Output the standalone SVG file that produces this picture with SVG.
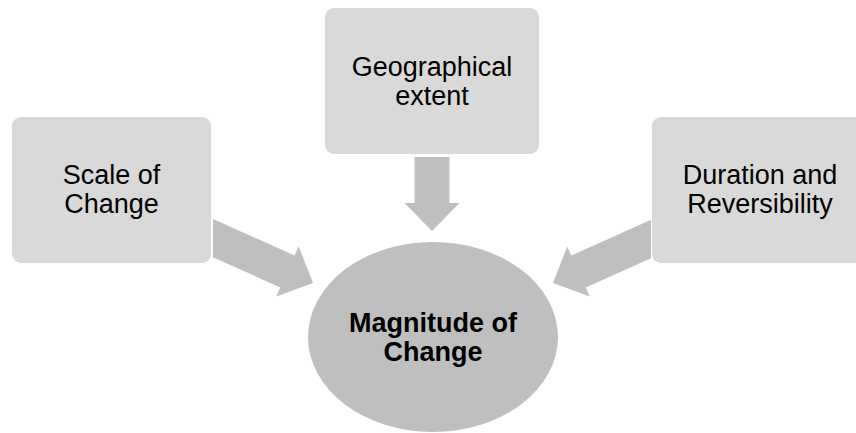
<svg xmlns="http://www.w3.org/2000/svg" width="856" height="433" viewBox="0 0 856 433">
<style>
.box{fill:#d9d9d9}
.arrow{fill:#bfbfbf}
.hub{fill:#bfbfbf}
.t{font-family:"Liberation Sans",Arial,sans-serif;font-size:27px;fill:#000;text-anchor:middle}
.b{font-weight:bold}
</style>
<rect width="856" height="433" fill="#ffffff"/>
<g id="connectors">
<polygon class="arrow" points="213,218.9 294.6,255.6 298.7,246.4 313,283 276.2,296.6 280.3,287.5 213,257.3"/>
<polygon class="arrow" points="414.5,157 449.5,157 449.5,203 459.5,203 432,231 404.5,203 414.5,203"/>
<polygon class="arrow" points="651,219.8 571.4,255.6 567.3,246.4 553,283 589.8,296.6 585.7,287.5 651,258.2"/>
</g>
<g id="scale">
<rect class="box" x="12" y="117" width="199" height="146" rx="9"/>
<text class="t" x="111.5" y="184">Scale of</text>
<text class="t" x="111.5" y="213">Change</text>
</g>
<g id="geo">
<rect class="box" x="325" y="8" width="214" height="146" rx="9"/>
<text class="t" x="432" y="76">Geographical</text>
<text class="t" x="432" y="105">extent</text>
</g>
<g id="duration">
<rect class="box" x="652" y="117" width="216" height="146" rx="9"/>
<text class="t" x="760" y="184">Duration and</text>
<text class="t" x="760" y="213">Reversibility</text>
</g>
<g id="magnitude">
<ellipse class="hub" cx="433" cy="337" rx="125" ry="95"/>
<text class="t b" x="433" y="332">Magnitude of</text>
<text class="t b" x="433" y="361">Change</text>
</g>
</svg>
